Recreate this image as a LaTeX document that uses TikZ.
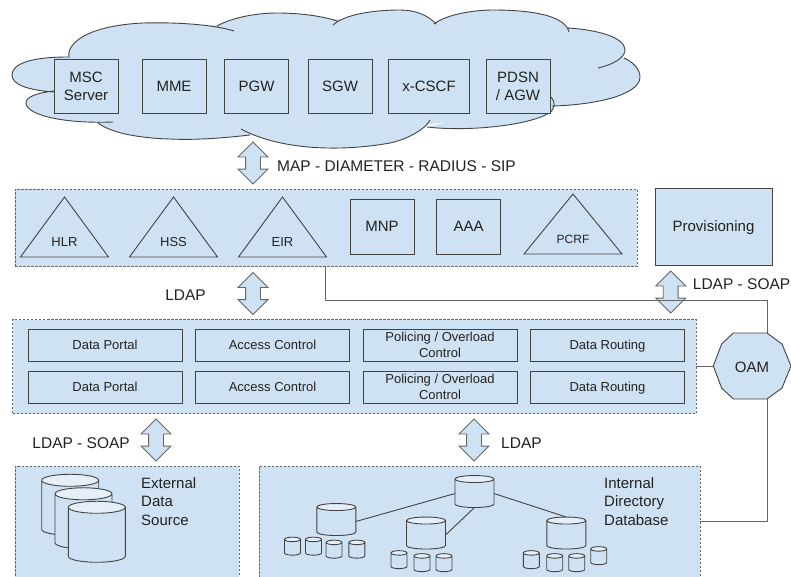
\documentclass[tikz,border=0pt]{standalone}
\usepackage{fontspec}
\setmainfont{Liberation Sans}
\usetikzlibrary{positioning,shapes.geometric,shapes.arrows}
\definecolor{paleblue}{HTML}{CFE2F3}
\definecolor{topblue}{HTML}{E6EFF8}
\definecolor{edgegrey}{HTML}{434343}
\definecolor{linegrey}{HTML}{666666}
\definecolor{inkgrey}{HTML}{222222}
\newcommand{\cloudlobes}{
 (113,122) .. controls (60,124) and (26,114) .. (26,103) .. controls (26,97) and (36,93) .. (54,91)
 (54,92) .. controls (26,90) and (12,84) .. (12,75) .. controls (12,64) and (30,57) .. (68,57)
 (69,58) .. controls (66,46) and (82,26) .. (143,23) .. controls (180,22) and (215,25) .. (234,31)
 (217,26) .. controls (233,17) and (258,13) .. (277,13) .. controls (300,13) and (322,16) .. (337,21)
 (333,25) .. controls (345,14) and (375,10) .. (400,10) .. controls (415,10) and (428,15) .. (436,24)
 (434,24) .. controls (447,14) and (475,10) .. (493,10) .. controls (530,10) and (565,15) .. (569,32)
 (568,28) .. controls (600,30) and (625,38) .. (625,50) .. controls (625,58) and (612,65) .. (598,68)
 (624,58) .. controls (633,62) and (640,69) .. (640,77) .. controls (640,95) and (595,105) .. (552,106)
 (551,97) .. controls (556,103) and (555,109) .. (549,113) .. controls (530,125) and (470,132) .. (427,127)
 (430,120) .. controls (425,130) and (405,140) .. (390,143) .. controls (340,152) and (280,150) .. (241,129)
 (250,135) .. controls (215,139) and (190,140) .. (170,139) .. controls (135,138) and (110,132) .. (98,123)
}
\tikzset{
 bigtext/.style={font=\fontsize{15}{18.3}\selectfont,text=inkgrey,inner sep=0pt},
 linktext/.style={bigtext,font=\fontsize{15.5}{18.3}\selectfont},
 smalltext/.style={font=\fontsize{13}{15.6}\selectfont,text=inkgrey,inner sep=0pt},
 panel/.style={draw=linegrey,fill=paleblue,dash pattern=on 2.5pt off 1.5pt,line width=0.9pt,anchor=north west,outer sep=0pt,inner sep=0pt},
 netbox/.style={draw=edgegrey,fill=paleblue,line width=0.9pt,outer sep=0pt,inner sep=0pt,align=center,text depth=0pt,bigtext},
 subbox/.style={netbox,smalltext,minimum width=154pt,minimum height=32pt},
 tribox/.style={isosceles triangle,isosceles triangle stretches,shape border rotate=90,draw=edgegrey,fill=paleblue,line width=0.9pt,inner sep=0pt,outer sep=0pt,anchor=south,minimum width=88pt,minimum height=60pt},
 bothways/.style={double arrow,rotate=90,draw=linegrey,fill=paleblue,line width=0.9pt,inner sep=0pt,outer sep=0pt,minimum height=42pt,minimum width=29pt,double arrow head extend=7.5pt},
 dbase/.style={cylinder,shape border rotate=90,aspect=0.5,cylinder uses custom fill,cylinder body fill=paleblue,cylinder end fill=topblue,draw=edgegrey,line width=0.9pt,inner sep=0pt,outer sep=0pt,minimum width=39pt,minimum height=32pt},
 bigbase/.style={dbase,minimum width=57pt,minimum height=61pt},
 tinybase/.style={dbase,minimum width=16pt,minimum height=18pt},
 wire/.style={draw=linegrey,line width=1pt},
 thinwire/.style={draw=edgegrey,line width=0.9pt}
}
\begin{document}
\begin{tikzpicture}[x=1pt,y=-1pt]
\path[use as bounding box,clip] (0,0) rectangle (791,576);
% core network cloud
\fill[paleblue] \cloudlobes (68,58) -- (100,40) -- (222,24) -- (337,19) -- (400,18) -- (436,22) -- (500,18) -- (568,27) -- (610,42) -- (622,55) -- (632,80) -- (600,100) -- (550,105) -- (545,112) -- (430,124) -- (390,141) -- (300,143) -- (250,135) -- (170,137) -- (100,124) -- (60,100) -- (54,92) -- cycle;
\draw[edgegrey,line width=0.9pt] \cloudlobes;
\node (msc) [netbox,minimum width=64pt,minimum height=54pt] at (86,86.5) {MSC\\Server};
\node (mme) [netbox,minimum width=64pt,minimum height=54pt] at (174,86.5) {MME};
\node (pgw) [netbox,minimum width=64pt,minimum height=54pt] at (256.5,86.5) {PGW};
\node (sgw) [netbox,minimum width=64pt,minimum height=54pt] at (340,86.5) {SGW};
\node (cscf) [netbox,minimum width=81pt,minimum height=54pt] at (429,86.5) {x-CSCF};
\node (pdsn) [netbox,minimum width=64pt,minimum height=54pt] at (518,86.5) {PDSN\\/ AGW};
% application layer
\node (apps) [panel,minimum width=622pt,minimum height=77pt] at (15,189) {};
\node (hlr) [tribox] at (64.5,257) {};
\node (hss) [tribox] at (173.5,257) {};
\node (eir) [tribox] at (282.5,257) {};
\node (pcrf) [tribox,minimum width=98pt] at (573,254) {};
\node (hlrtext) [smalltext,above=10pt of hlr.south] {HLR};
\node (hsstext) [smalltext,above=10pt of hss.south] {HSS};
\node (eirtext) [smalltext,above=10pt of eir.south] {EIR};
\node (pcrftext) [font=\fontsize{12}{14}\selectfont,text=inkgrey,inner sep=0pt,above=10.5pt of pcrf.south] {PCRF};
\node (mnp) [netbox,minimum width=64pt,minimum height=55pt] at (382,226.5) {MNP};
\node (aaa) [netbox,minimum width=64pt,minimum height=55pt] at (468.5,226.5) {AAA};
\node (prov) [netbox,minimum width=117pt,minimum height=77pt] at (713.5,226.5) {Provisioning};
% data layer
\node (dlayer) [panel,minimum width=683.5pt,minimum height=94pt] at (12.5,319.5) {};
\node (portala) [subbox] at (105,345) {Data Portal};
\node (accessa) [subbox,right=13.5pt of portala] {Access Control};
\node (policya) [subbox,right=13.5pt of accessa] {Policing / Overload\\Control};
\node (routea) [subbox,right=13.5pt of policya] {Data Routing};
\node (portalb) [subbox,below=10pt of portala] {Data Portal};
\node (accessb) [subbox,right=13.5pt of portalb] {Access Control};
\node (policyb) [subbox,right=13.5pt of accessb] {Policing / Overload\\Control};
\node (routeb) [subbox,right=13.5pt of policyb] {Data Routing};
% storage
\node (extern) [panel,minimum width=224pt,minimum height=125pt] at (15,466) {};
\node (intern) [panel,minimum width=441pt,minimum height=125pt] at (259,466) {};
\node (extdba) [bigbase] at (70.2,508) {\hspace*{24pt}};
\node (extdbb) [bigbase] at (83.5,521.5) {\hspace*{24pt}};
\node (extdbc) [bigbase] at (96.8,535) {\hspace*{24pt}};
\node (exttext) [bigtext,align=left,anchor=west] at (141,501.5) {External\\Data\\Source};
\node (inttext) [bigtext,align=left,anchor=west] at (604,501.5) {Internal\\Directory\\Database};
\node (dbroot) [dbase] at (474.5,493.5) {\hspace*{14pt}};
\node (dbleft) [dbase] at (336.3,521.5) {\hspace*{14pt}};
\node (dbmid) [dbase] at (426,535) {\hspace*{14pt}};
\node (dbright) [dbase] at (566.3,535) {\hspace*{14pt}};
\draw[thinwire] (dbleft.east) -- (dbroot.west);
\draw[thinwire] (dbroot.south) -- (dbmid.east);
\draw[thinwire] (dbroot.east) -- (dbright.north);
\foreach \tinyname/\tinyx/\tinyy in {ta/292.5/547.5,tb/313.5/547.5,tc/334/550.5,td/356.8/550.5,te/399/561,tf/422/564,tg/444/564,th/531.3/561,ti/554.7/564,tj/576.7/564,tk/598.7/557}
 \node (\tinyname) [tinybase] at (\tinyx,\tinyy) {\hspace*{9pt}};
% protocol arrows
\node (sigarrow) [bothways] at (253,163) {\rule{0pt}{14pt}};
\node (apparrow) [bothways] at (253,293.5) {\rule{0pt}{14pt}};
\node (provarrow) [bothways] at (670.7,292) {\rule{0pt}{14pt}};
\node (extarrow) [bothways] at (156,440) {\rule{0pt}{14pt}};
\node (intarrow) [bothways] at (474,440) {\rule{0pt}{14pt}};
\node (siglabel) [linktext,right=24pt of sigarrow.center,yshift=-3.5pt] {MAP - DIAMETER - RADIUS - SIP};
\node (applabel) [linktext,left=47pt of apparrow.center,yshift=-2pt] {LDAP};
\node (provlabel) [linktext,right=22pt of provarrow.center,yshift=8pt] {LDAP - SOAP};
\node (extlabel) [linktext,left=26pt of extarrow.center,yshift=-2.7pt] {LDAP - SOAP};
\node (intlabel) [linktext,right=27pt of intarrow.center,yshift=-2.7pt] {LDAP};
% management
\filldraw[fill=paleblue,draw=edgegrey,line width=0.9pt] (733.3,333) -- (767,333) -- (782,344) -- (791,366) -- (782,388) -- (767,399) -- (733.3,399) -- (721.6,388) -- (713.3,366) -- (721.6,344) -- cycle;
\node (oam) [bigtext,minimum width=78pt,minimum height=66pt,outer sep=0pt] at (752,367) {OAM};
\coordinate (oamtop) at (767,333);
\coordinate (oamlow) at (767,399);
\coordinate (eirdrop) at (325.5,266);
\coordinate (oamside) at (713.3,366);
\draw[wire] (eirdrop) |- (oamtop |- 0,300) -- (oamtop);
\draw[wire] (dlayer.east |- oamside) -- (oamside);
\draw[wire] (oamlow) |- (intern.east |- 0,521);
\end{tikzpicture}
\end{document}
